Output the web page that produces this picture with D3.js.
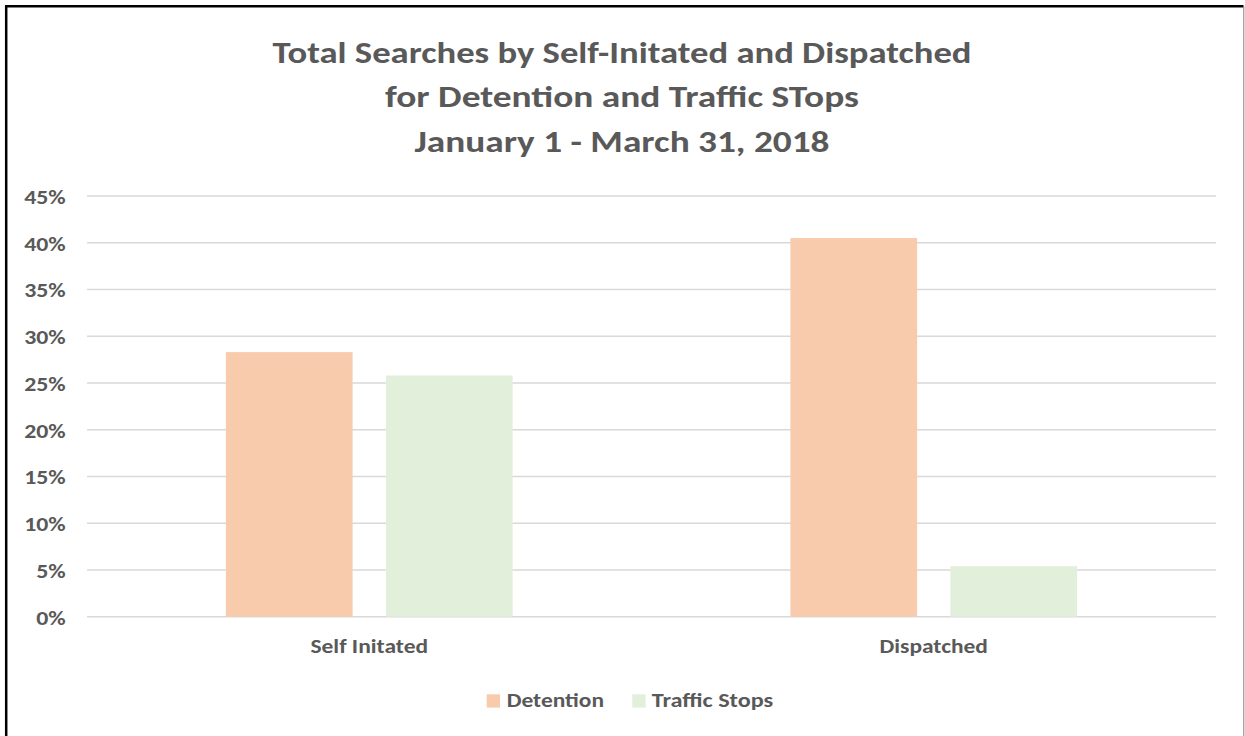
<!DOCTYPE html>
<html>
<head>
<meta charset="utf-8">
<script src="https://cdn.jsdelivr.net/npm/d3@7"></script>
<style>
  html, body { margin: 0; padding: 0; background: #fff; }
  svg { display: block; }
  text { font-family: Carlito, Calibri, Lato, "Open Sans", sans-serif; font-weight: bold; fill: #595959; }
</style>
</head>
<body>
<svg id="chart" width="1245" height="736"></svg>
<script>
const categories = ["Self Initated", "Dispatched"];
const seriesNames = ["Detention", "Traffic Stops"];
const detention = [0.283, 0.405];
const trafficStops = [0.258, 0.054];
const yTicks = [0, 0.05, 0.10, 0.15, 0.20, 0.25, 0.30, 0.35, 0.40, 0.45];
const titleLines = [
  "Total Searches by Self-Initated and Dispatched",
  "for Detention and Traffic STops",
  "January 1 - March 31, 2018"
];
const colors = ["#F8CBAD", "#E2EFDA"];

const svg = d3.select("#chart");

// outer frame
svg.append("path")
  .attr("d", "M6.2,736 L6.2,6.2 L1243.5,6.2")
  .attr("fill", "none").attr("stroke", "#000").attr("stroke-width", 2.5);
svg.append("line")
  .attr("x1", 1243.8).attr("x2", 1243.8).attr("y1", 6).attr("y2", 736)
  .attr("stroke", "#7f7f7f").attr("stroke-width", 1);

const plotLeft = 87, plotRight = 1216, plotTop = 196, plotBottom = 616.7;

const x0 = d3.scaleBand().domain(categories).range([plotLeft, plotRight]).padding(0);
const x1 = d3.scaleBand().domain(seriesNames).range([0, x0.bandwidth()])
  .paddingInner(0.208).paddingOuter(0.868);
const y = d3.scaleLinear().domain([0, 0.45]).range([plotBottom, plotTop]);

// title
const titleWidths = [699, 474, 415];
const titleBaselines = [62.7, 107, 151.7];
svg.append("g").selectAll("text").data(titleLines).join("text")
  .attr("x", 622).attr("y", (d, i) => titleBaselines[i])
  .attr("text-anchor", "middle")
  .attr("font-size", 31)
  .attr("textLength", (d, i) => titleWidths[i])
  .attr("lengthAdjust", "spacingAndGlyphs")
  .text(d => d);

// gridlines
svg.append("g").selectAll("line").data(yTicks).join("line")
  .attr("x1", plotLeft).attr("x2", plotRight)
  .attr("y1", d => y(d)).attr("y2", d => y(d))
  .attr("stroke", "#D9D9D9").attr("stroke-width", 1.5);

// y axis labels
const fmt = d3.format(".0%");
const yAxis = d3.axisLeft(y).tickValues(yTicks).tickFormat(fmt).tickSize(0).tickPadding(0);
const yg = svg.append("g").attr("transform", "translate(65.7,0)").call(yAxis);
yg.select(".domain").remove();
yg.selectAll("text")
  .attr("font-size", 20.5)
  .attr("dy", "0.36em")
  .style("font-family", null).attr("font-family", null)
  .style("fill", "#595959")
  .attr("textLength", d => fmt(d).length === 3 ? 41.5 : 29.5)
  .attr("lengthAdjust", "spacingAndGlyphs");

// bars
const data = categories.map((c, i) => ({ cat: c, values: [detention[i], trafficStops[i]] }));
const groups = svg.append("g").selectAll("g").data(data).join("g")
  .attr("transform", d => `translate(${x0(d.cat)},0)`);
groups.selectAll("rect").data(d => d.values.map((v, j) => ({ s: seriesNames[j], v, j })))
  .join("rect")
  .attr("x", d => x1(d.s))
  .attr("width", x1.bandwidth())
  .attr("y", d => y(d.v))
  .attr("height", d => y(0) - y(d.v))
  .attr("fill", d => colors[d.j]);

// x axis labels
const xAxis = d3.axisBottom(x0).tickSize(0).tickPadding(0);
const xg = svg.append("g").attr("transform", `translate(0,653.3)`).call(xAxis);
xg.select(".domain").remove();
const catWidths = [117.6, 108.3];
xg.selectAll("text")
  .attr("font-size", 19.5)
  .attr("dy", 0)
  .attr("y", 0)
  .style("font-family", null).attr("font-family", null)
  .style("fill", "#595959")
  .attr("textLength", (d, i) => catWidths[i])
  .attr("lengthAdjust", "spacingAndGlyphs");

// legend
const legendItems = [
  { name: seriesNames[0], sx: 486.7, tx: 506.7, tw: 97.3 },
  { name: seriesNames[1], sx: 632.3, tx: 651.7, tw: 121.6 }
];
const lg = svg.append("g").selectAll("g").data(legendItems).join("g");
lg.append("rect")
  .attr("x", d => d.sx).attr("y", 694.3).attr("width", 13.3).attr("height", 13.3)
  .attr("fill", (d, i) => colors[i]);
lg.append("text")
  .attr("x", d => d.tx).attr("y", 707.3)
  .attr("font-size", 20)
  .attr("textLength", d => d.tw)
  .attr("lengthAdjust", "spacingAndGlyphs")
  .text(d => d.name);
</script>
</body>
</html>
